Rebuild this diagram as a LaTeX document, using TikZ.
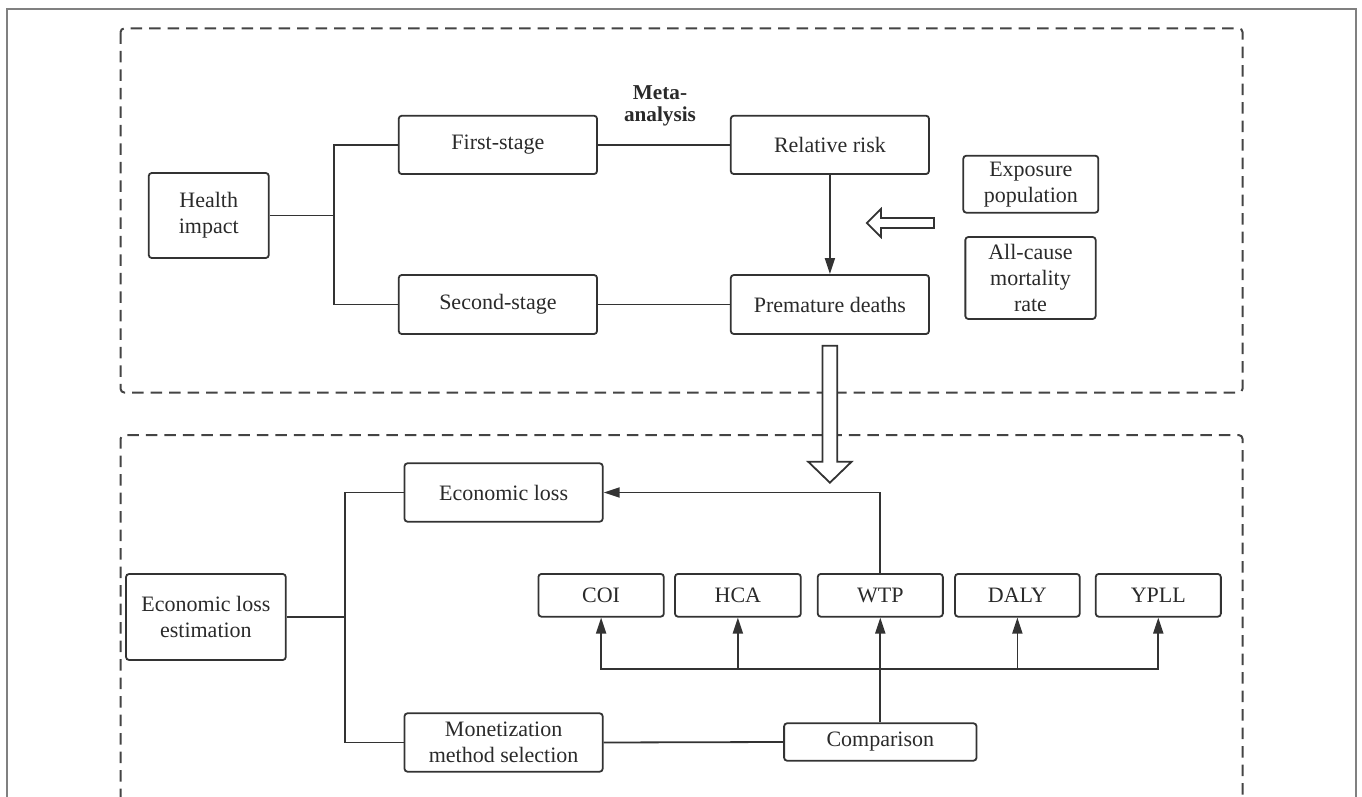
\documentclass[tikz,border=0pt]{standalone}
\usepackage{fontspec}
\setmainfont{Liberation Serif}
\usetikzlibrary{arrows.meta}
\definecolor{linec}{HTML}{333333}
\definecolor{textc}{HTML}{2a2a2a}
\definecolor{dashc}{HTML}{444444}
\definecolor{framec}{HTML}{808080}
\begin{document}
\begin{tikzpicture}[x=0.5pt,y=-0.5pt,
  box/.style={draw=linec, line width=0.9pt, rounded corners=1.5pt, align=center, inner sep=0pt,
    font=\fontsize{11}{13}\selectfont, text=textc},
  conn/.style={draw=linec, line width=0.9pt},
  arr/.style={conn, -{Triangle[length=8pt,width=5pt]}},
  dbox/.style={draw=dashc, line width=1pt, dash pattern=on 5.75pt off 3.5pt, rounded corners=2pt},
  hollow/.style={draw=linec, line width=0.9pt, fill=white, line join=miter},
  frame/.style={draw=framec, line width=1pt}
]
\useasboundingbox (0,0) rectangle (1362,797);
% outer frame
\draw[frame] (7.3,797) -- (7.3,9) -- (1355.5,9) -- (1355.5,797);
% dashed regions
\draw[dbox] (120.5,28.3) rectangle (1242.6,392.6);
\draw[dbox] (120.5,800) -- (120.5,435) -- (1242.6,435) -- (1242.6,800);

% top section nodes
\node[box, minimum width=60pt, minimum height=42.5pt] (hi) at (208.75,215.5) {Health\\impact};
\node[box, minimum width=99.15pt, minimum height=29.15pt] (fs) at (497.9,144.9) {First-stage};
\node[box, minimum width=99.15pt, minimum height=29.5pt] (ss) at (497.9,304.5) {Second-stage};
\node[box, minimum width=99.1pt, minimum height=29.15pt] (rr) at (829.9,144.9) {Relative risk};
\node[box, minimum width=99.1pt, minimum height=29.5pt] (pd) at (829.9,304.5) {Premature deaths};
\node[box, minimum width=67.5pt, minimum height=28.5pt] (ep) at (1030.8,184.2) {Exposure\\population};
\node[box, minimum width=65.15pt, minimum height=41pt] (ac) at (1030.5,278) {All-cause\\mortality\\rate};
\node[font=\bfseries\fontsize{10.6}{11.2}\selectfont, align=center, text=textc, inner sep=0pt] (meta) at (660,106) {Meta-\\analysis};

% bottom section nodes
\node[box, minimum width=99.1pt, minimum height=29.2pt] (el) at (503.6,492.5) {Economic loss};
\node[box, minimum width=79.85pt, minimum height=43pt] (ele) at (205.9,617) {Economic loss\\estimation};
\node[box, minimum width=99.1pt, minimum height=29.2pt] (mm) at (503.6,742.5) {Monetization\\method selection};
\node[box, minimum width=62.7pt, minimum height=21.35pt] (coi) at (601.1,595.3) {COI};
\node[box, minimum width=62.9pt, minimum height=21.35pt] (hca) at (737.9,595.3) {HCA};
\node[box, minimum width=62.55pt, minimum height=21.35pt] (wtp) at (880.3,595.3) {WTP};
\node[box, minimum width=62.35pt, minimum height=21.35pt] (daly) at (1017.4,595.3) {DALY};
\node[box, minimum width=62.55pt, minimum height=21.35pt] (ypll) at (1158.3,595.3) {YPLL};
\node[box, minimum width=96.2pt, minimum height=18.7pt] (cmp) at (880.3,742) {Comparison};

% top connectors
\coordinate (b1) at (334,0);
\draw[conn] (hi.east) -- (hi.east -| b1);
\draw[conn] (fs.west) -- (fs.west -| b1) -- (ss.west -| b1) -- (ss.west);
\draw[conn] (fs.east) -- (rr.west);
\draw[conn] (ss.east) -- (pd.west);
\draw[arr] (rr.south) -- (pd.north);

% bottom connectors
\coordinate (b2) at (344.6,0);
\draw[conn] (ele.east) -- (ele.east -| b2);
\draw[conn] (el.west) -- (el.west -| b2) -- (mm.west -| b2) -- (mm.west);
\draw[conn] (mm.east) -- (cmp.west);
\draw[arr] (cmp.north) -- (wtp.south);
\coordinate (b3) at (0,669.3);
\draw[arr] (cmp.north |- b3) -| (coi.south);
\draw[arr] (cmp.north |- b3) -| (ypll.south);
\draw[arr] (hca.south |- b3) -- (hca.south);
\draw[arr] (daly.south |- b3) -- (daly.south);
\draw[arr] (wtp.north) |- (el.east);

% hollow arrows
\draw[hollow] (866.8,223) -- (881,209) -- (881,218) -- (934,218) -- (934,228) -- (881,228) -- (881,237) -- cycle;
\draw[hollow] (822.5,345.7) -- (837.3,345.7) -- (837.3,461.7) -- (851.6,461.7) -- (829.9,482.7) -- (808.2,461.7) -- (822.5,461.7) -- cycle;
\end{tikzpicture}
\end{document}
